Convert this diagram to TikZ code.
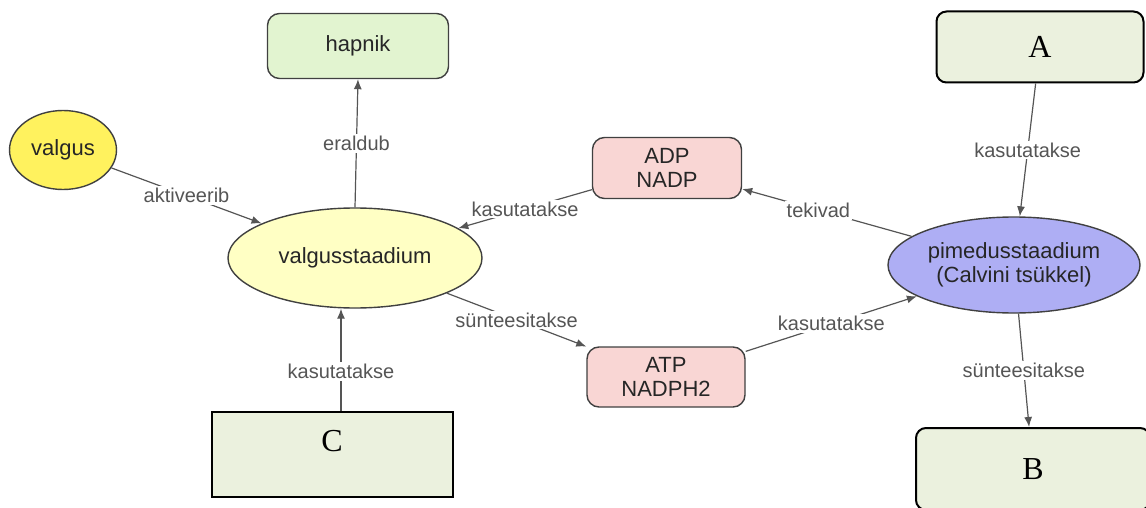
\documentclass[tikz,border=0pt]{standalone}
\usepackage{fontspec}
\setmainfont{Liberation Sans}
\newfontfamily\lettfont{Liberation Serif}
\usetikzlibrary{shapes.geometric, arrows.meta}

\definecolor{hapnikgreen}{HTML}{E2F4D0}
\definecolor{sunyellow}{HTML}{FFF25E}
\definecolor{paleyellow}{HTML}{FFFFC4}
\definecolor{rosepink}{HTML}{F9D6D4}
\definecolor{lavender}{HTML}{AEAEF4}
\definecolor{olivelight}{HTML}{EBF1DE}
\definecolor{linegray}{HTML}{555555}

\begin{document}
\begin{tikzpicture}[x=0.5pt, y=-0.5pt]
  \tikzstyle{every node}=[font=\fontsize{11}{12}\selectfont, text=black!85]
  \tikzstyle{oval}=[ellipse, draw=black!75, line width=0.7pt, inner sep=0pt]
  \tikzstyle{rbox}=[rectangle, rounded corners=6pt, draw=black!75, line width=0.7pt, align=center, inner sep=0pt]
  \tikzstyle{letterbox}=[rectangle, draw=black, line width=1pt, fill=olivelight, inner sep=0pt,
                         font=\lettfont\fontsize{16}{18}\selectfont, text=black]
  \tikzstyle{arr}=[draw=linegray, line width=0.6pt, -{Latex[length=5pt, width=4pt]}]
  \tikzstyle{lbl}=[fill=white, inner sep=1pt, text=linegray, font=\fontsize{10}{12}\selectfont]

  \useasboundingbox (0, 0) rectangle (1146, 508);
  \clip (0, 0) rectangle (1146, 508);

  % nodes
  \node[rbox, fill=hapnikgreen, minimum width=90.5pt, minimum height=32.5pt] (hapnik) at (358, 46) {hapnik};
  \node[oval, fill=sunyellow, minimum width=53.5pt, minimum height=39.5pt] (valgus) at (63, 150) {valgus};
  \node[oval, fill=paleyellow, minimum width=127pt, minimum height=50pt] (valg) at (355, 258) {valgusstaadium};
  \node[rbox, fill=rosepink, minimum width=74.5pt, minimum height=30.5pt] (adp) at (667, 168) {ADP\\NADP};
  \node[rbox, fill=rosepink, minimum width=79pt, minimum height=30pt] (atp) at (666, 377) {ATP\\NADPH2};
  \node[oval, fill=lavender, minimum width=126pt, minimum height=48pt, align=center] (pime) at (1014, 265)
    {pimedusstaadium\\(Calvini tsükkel)};

  \node[letterbox, rounded corners=5pt, minimum width=103.5pt, minimum height=35.5pt] (A) at (1040, 47) {A};
  \node[letterbox, rounded corners=5pt, minimum width=117pt, minimum height=41pt] (B) at (1033, 469) {B};
  \node[letterbox, minimum width=120.5pt, minimum height=42.5pt, text depth=13pt] (C) at (332, 454) {C};

  % connectors
  \draw[arr] (valgus) -- node[lbl] {aktiveerib} (valg);
  \draw[arr] (valg.north) -- node[lbl] {eraldub} (hapnik.south);
  \draw[arr] (adp) -- node[lbl] {kasutatakse} (valg);
  \draw[arr] (pime) -- node[lbl, pos=0.55] {tekivad} (adp);
  \draw[arr] (valg) -- node[lbl] {sünteesitakse} (atp);
  \draw[arr] (atp) -- node[lbl] {kasutatakse} (pime);
  \draw[arr] (A) -- node[lbl] {kasutatakse} (pime);
  \draw[arr] (pime) -- node[lbl] {sünteesitakse} (B);
  \draw[arr] ([xshift=4.5pt]C.north) -- node[lbl, pos=0.38] {kasutatakse} ([xshift=-7pt]valg.south);
\end{tikzpicture}
\end{document}
